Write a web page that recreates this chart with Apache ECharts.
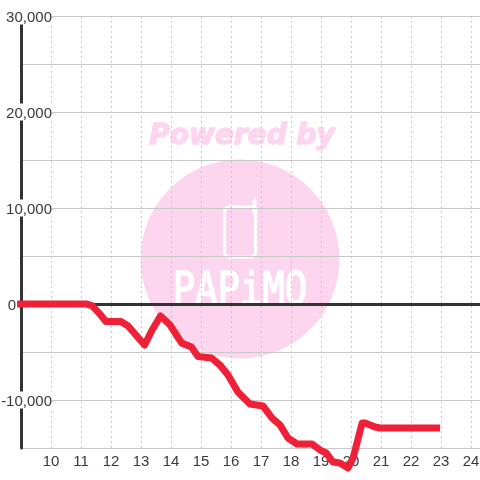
<!DOCTYPE html>
<html>
<head>
<meta charset="utf-8">
<style>html,body{margin:0;padding:0;background:#fff}#c{width:480px;height:480px}</style>
<script src="https://cdn.jsdelivr.net/npm/echarts@6/dist/echarts.min.js"></script>
</head>
<body>
<div id="c"></div>
<script>
var hours = [8.87,11.17,11.37,11.6,11.83,12.33,12.57,12.83,13.12,13.37,13.65,13.97,14.35,14.68,14.9,15.35,15.63,15.9,16.23,16.63,17.07,17.37,17.63,17.9,18.2,18.7,18.97,19.17,19.4,19.63,19.9,20.07,20.37,20.47,20.8,20.97,22.97];
var values = [0,0,-160,-940,-1820,-1820,-2290,-3230,-4270,-2710,-1250,-2190,-4060,-4480,-5470,-5620,-6350,-7400,-9170,-10420,-10630,-11880,-12600,-13960,-14580,-14580,-15210,-15520,-16460,-16560,-17080,-16040,-12400,-12400,-12810,-12920,-12920];
var points = hours.map(function (h, i) { return [h, values[i]]; });
var yTicks = { min: -15000, max: 30000, interval: 5000 };
var xTicks = { min: 9, max: 24.3, interval: 1 };
var pink = '#fcd6ee', ink = '#3a3a3a';

function yLabel(v) {
  if (v === 0) return '{z|0}{s|}';
  if (v % 10000 !== 0) return '';
  return '{a|' + v.toLocaleString('en-US') + '}';
}
var chart = echarts.init(document.getElementById('c'), null, { renderer: 'canvas' });
chart.setOption({
  animation: false,
  backgroundColor: '#fff',
  textStyle: { fontFamily: 'Liberation Sans' },
  grid: { left: 21, right: 0, top: 16, bottom: 32, outerBoundsMode: 'none', containLabel: false },
  graphic: [
    { type: 'circle', z: -10, silent: true, shape: { cx: 240, cy: 259, r: 99.5 }, style: { fill: pink } },
    { type: 'text', z: -10, silent: true, x: 242, y: 137, style: { text: 'Powered by', fill: pink, stroke: pink, lineWidth: 1.5, font: 'italic bold 28px "DejaVu Sans"', align: 'center', verticalAlign: 'middle' } },
    { type: 'rect', z: -9, silent: true, shape: { x: 224.5, y: 207, width: 31, height: 50, r: 5 }, style: { fill: 'none', stroke: '#fff', lineWidth: 3 } },
    { type: 'line', z: -9, silent: true, shape: { x1: 254.5, y1: 201, x2: 254.5, y2: 212 }, style: { stroke: '#fff', lineWidth: 4, lineCap: 'round' } },
    { type: 'text', z: -9, silent: true, x: 240, y: 292, scaleX: 1.24, scaleY: 1.5, style: { text: 'PAPiMO', fill: '#fff', stroke: '#fff', lineWidth: 1, font: '30px "DejaVu Sans Mono"', align: 'center', verticalAlign: 'middle' } }
  ],
  xAxis: [
    {
      type: 'value', min: xTicks.min, max: xTicks.max, interval: xTicks.interval,
      position: 'bottom',
      axisLine: { show: false, onZero: false },
      axisTick: { show: false },
      axisLabel: { show: true, showMinLabel: false, showMaxLabel: false, color: ink, fontSize: 15, margin: 6, fontFamily: 'Liberation Sans' },
      splitLine: { show: true, showMinLine: false, showMaxLine: false, lineStyle: { color: '#c8c8c8', width: 1, type: [2, 3] } }
    },
    {
      type: 'value', min: xTicks.min, max: xTicks.max, interval: xTicks.interval,
      position: 'bottom',
      axisLine: { show: true, onZero: true, lineStyle: { color: '#333', width: 3 } },
      axisTick: { show: false }, axisLabel: { show: false }, splitLine: { show: false }
    }
  ],
  yAxis: {
    type: 'value', min: yTicks.min, max: yTicks.max, interval: yTicks.interval,
    axisLine: { show: true, onZero: false, lineStyle: { color: '#333', width: 3 } },
    axisTick: { show: false },
    axisLabel: {
      inside: true, margin: 31, align: 'right', color: ink, fontSize: 15,
      fontFamily: 'Liberation Sans',
      formatter: yLabel,
      rich: {
        a: { color: ink, fontSize: 15, fontFamily: 'Liberation Sans', backgroundColor: '#fff', padding: [3, 0, 0, 0], height: 14 },
        z: { color: ink, fontSize: 15, fontFamily: 'Liberation Sans', padding: [3, 0, 0, 0], height: 14 },
        s: { width: 36 }
      }
    },
    splitLine: { show: true, lineStyle: { color: '#c8c8c8', width: 1 } }
  },
  series: [{
    type: 'line', data: points, xAxisIndex: 0, yAxisIndex: 0,
    showSymbol: false, symbol: 'none', clip: false, smooth: false,
    lineStyle: { color: '#ee2138', width: 7, join: 'round', cap: 'butt' },
    z: 5
  }]
});
</script>
</body>
</html>
